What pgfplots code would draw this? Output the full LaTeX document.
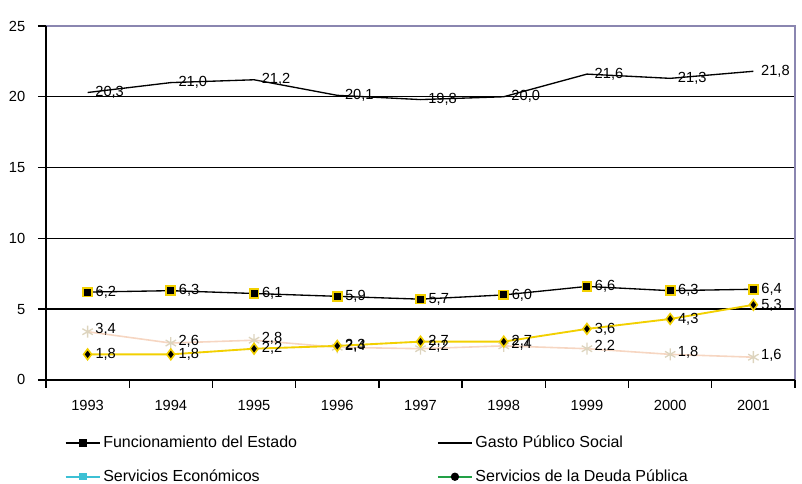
\documentclass[border=0pt]{standalone}
\usepackage{fontspec}
\setmainfont{Liberation Sans}
\usepackage{pgfplots}
\pgfplotsset{compat=1.18}
\definecolor{ylw}{HTML}{F2D000}
\definecolor{peach}{HTML}{F6D6C2}
\definecolor{beige}{HTML}{DDD4BE}
\definecolor{frame}{HTML}{8A86B0}
\definecolor{cyanL}{HTML}{3CC0D4}
\definecolor{greenL}{HTML}{22A046}
\pgfplotsset{/pgf/number format/assume math mode=true}
\begin{document}
\begin{tikzpicture}
\begin{axis}[
  scale only axis, width=562pt, height=265.5pt,
  xmin=-0.5, xmax=8.5, ymin=0, ymax=25,
  axis line style={draw=none},
  xtick={0,1,2,3,4,5,6,7,8},
  xticklabels={1993,1994,1995,1996,1997,1998,1999,2000,2001},
  minor xtick={-0.5,0.5,1.5,2.5,3.5,4.5,5.5,6.5,7.5,8.5},
  major x tick style={draw=none},
  minor x tick style={black, line width=1pt},
  ytick={0,5,10,15,20,25},
  y tick style={black, line width=1pt},
  tick align=outside, major tick length=6pt, minor tick length=6pt,
  xtick pos=bottom, ytick pos=left,
  tick label style={font=\fontsize{11}{13}\selectfont},
  xticklabel style={yshift=-6pt},
  yticklabel style={xshift=-6pt},
  extra y ticks={5,10,15,20}, extra y tick labels={},
  extra y tick style={ymajorgrids=true, major grid style={black, line width=1pt}, major tick length=0pt},
  clip=false,
  every node near coord/.append style={anchor=west, xshift=2pt, font=\fontsize{11}{12}\selectfont, text=black},
  nodes near coords={\pgfmathprintnumber[fixed,fixed zerofill,precision=1,use comma]{\pgfplotspointmeta}},
  legend columns=2,
  legend cell align=left,
  legend style={at={(axis description cs:0,0)}, anchor=north west, xshift=14pt, yshift=-40pt,
     draw=none, fill=none, inner sep=0pt, font=\fontsize{12}{13}\selectfont,
     row sep=11pt, /tikz/column 2/.style={column sep=103pt}},
  legend image code/.code={\draw[mark repeat=2,mark phase=2,#1] plot coordinates {(0cm,0cm) (0.45cm,0cm) (0.9cm,0cm)};},
]
% Gasto Publico Social
\addplot[black, line width=1pt, forget plot] coordinates {
 (0,20.3) (1,21.0) (2,21.2) (3,20.1) (4,19.8) (5,20.0) (6,21.6) (7,21.3) (8,21.8)};
% Funcionamiento del Estado
\addplot[black, line width=1pt, mark=square*, mark size=3.3pt,
  mark options={fill=black, draw=ylw, line width=1.4pt}, forget plot] coordinates {
 (0,6.2) (1,6.3) (2,6.1) (3,5.9) (4,5.7) (5,6.0) (6,6.6) (7,6.3) (8,6.4)};
% Servicios Economicos
\addplot[peach, line width=1.2pt, mark=asterisk, mark size=4.5pt,
  mark options={draw=beige, line width=1pt}, forget plot,
  every node near coord/.append style={yshift=1.5pt}] coordinates {
 (0,3.4) (1,2.6) (2,2.8) (3,2.3) (4,2.2) (5,2.4) (6,2.2) (7,1.8) (8,1.6)};
% Servicios de la Deuda Publica
\addplot[ylw, line width=1.4pt, mark=diamond*, mark size=4pt,
  mark options={fill=black, draw=ylw, line width=1.2pt}, forget plot] coordinates {
 (0,1.8) (1,1.8) (2,2.2) (3,2.4) (4,2.7) (5,2.7) (6,3.6) (7,4.3) (8,5.3)};
\addlegendimage{black, line width=1pt, mark=square*, mark size=2.5pt, mark options={fill=black}}
\addlegendentry{Funcionamiento del Estado}
\addlegendimage{black, line width=1pt}
\addlegendentry{Gasto Público Social}
\addlegendimage{cyanL, line width=1.2pt, mark=square*, mark size=2.2pt}
\addlegendentry{Servicios Económicos}
\addlegendimage{greenL, line width=1.2pt, mark=*, mark size=2.5pt, mark options={fill=black, draw=black}}
\addlegendentry{Servicios de la Deuda Pública}
\draw[frame, line width=0.8pt] (rel axis cs:0,1) -- (rel axis cs:1,1) -- (rel axis cs:1,0);
\draw[black, line width=1.3pt] (rel axis cs:0,1) -- (rel axis cs:0,0) -- (rel axis cs:1,0);
\end{axis}
\pgfresetboundingbox
\path[use as bounding box] ([xshift=-34.5pt, yshift=-78pt]current axis.south west) rectangle ([xshift=5.25pt, yshift=19.5pt]current axis.north east);
\end{tikzpicture}
\end{document}
